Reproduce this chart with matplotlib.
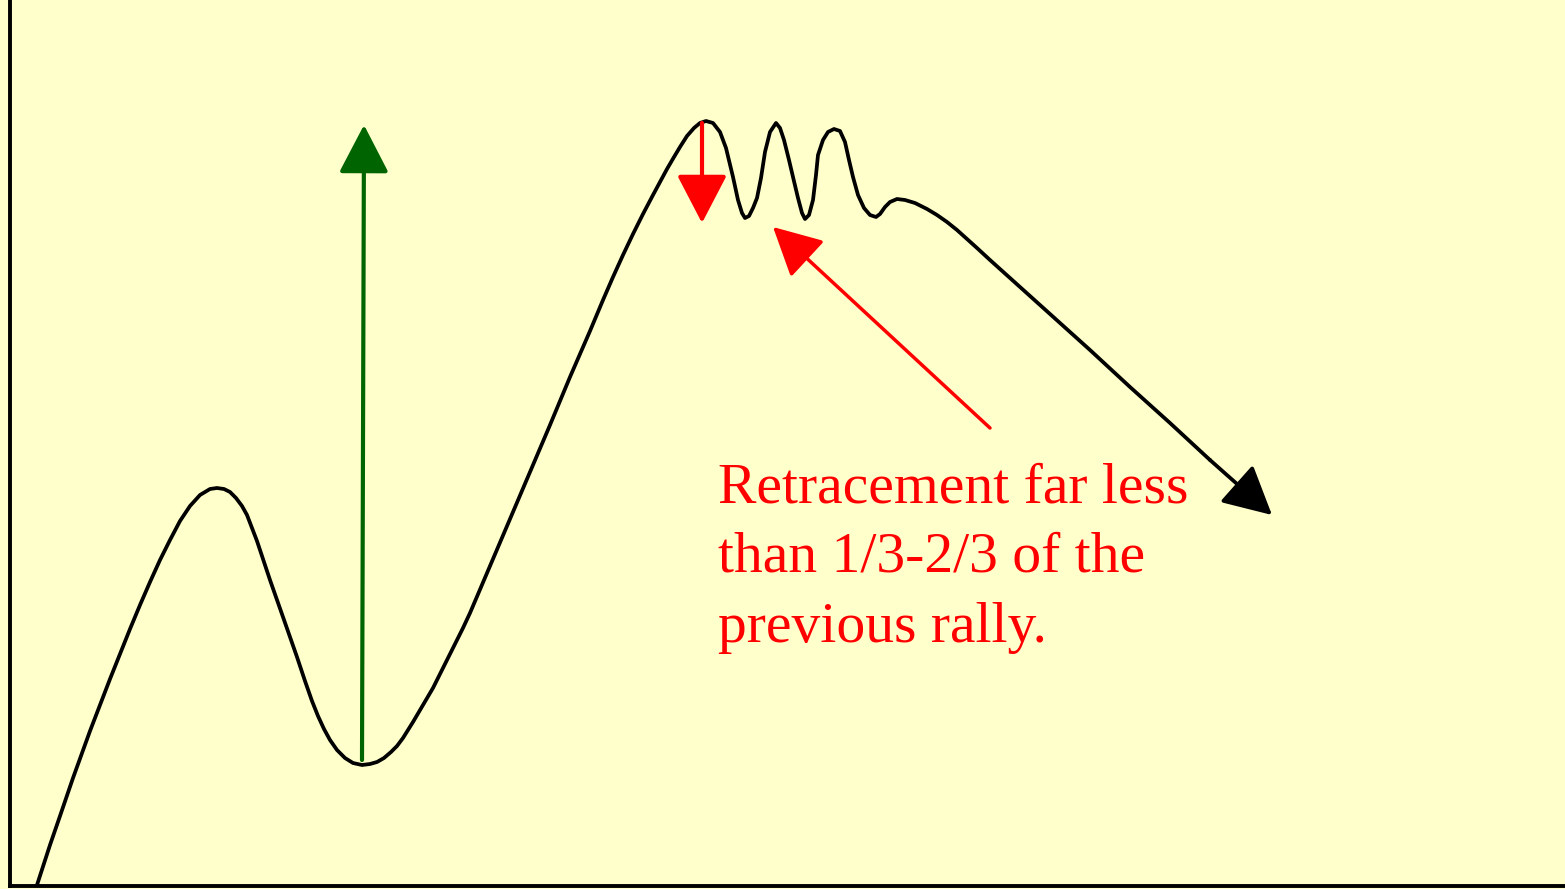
import matplotlib
matplotlib.use("Agg")
import matplotlib.pyplot as plt

# price path (x = time, y = price, both in pixel units)
t = [37, 50, 60, 73, 90, 110, 130, 140, 150, 160, 170, 180, 190, 200, 210, 217,
     224, 230, 236, 242, 247, 252, 257, 263, 270, 283, 297, 305, 312, 318, 324,
     330, 337, 345, 353, 362, 370, 377, 384, 391, 397, 403, 413, 423, 433, 443,
     453, 463, 470, 490, 510, 530, 550, 570, 590, 603, 613, 623, 633, 643, 653,
     660, 667, 674, 680, 687, 694, 700, 706, 713, 720, 726, 733, 738,
     742, 745, 749, 753, 757, 761, 765, 770, 776, 780, 784, 789, 793, 798, 802,
     805, 809, 813, 816, 818, 823, 828, 834, 840, 845, 849, 853, 858, 864, 870,
     876, 880, 885, 890, 897, 905, 915, 927, 937, 947, 957, 967, 977, 990, 1010,
     1030, 1050, 1090, 1130, 1170, 1210]
py = [885, 845, 816, 778, 731, 679, 629, 605, 582, 560, 540, 521, 506, 495, 489, 488,
      489, 492, 498, 506, 515, 528, 541, 559, 580, 617, 657, 681, 701, 716, 729,
      740, 750, 758, 763, 765, 764, 762, 758, 752, 746, 738, 722, 705, 688, 668,
      648, 628, 613, 566, 519, 472, 425, 377, 331, 300, 277, 255, 234, 214, 195,
      182, 169, 157, 147, 136, 128, 123, 121, 123, 132, 148, 177, 200,
      213, 218, 216, 208, 198, 178, 152, 132, 123, 128, 140, 160, 177, 198, 213,
      219, 215, 200, 175, 155, 140, 132, 129, 131, 142, 160, 177, 195, 208, 215,
      217, 214, 207, 202, 199, 200, 203, 209, 215, 222, 230, 239, 248, 260, 278,
      296, 314, 350, 387, 423, 460]
H = 889
price = [H - v for v in py]

trend_tip = (1272, H - 515)
rally_arrow = [(362, H - 760), (364, H - 125)]
drop_arrow = [(702, H - 123), (702, H - 223)]
pointer_arrow = [(990, H - 428), (773, H - 227)]

note_lines = ["Retracement far less", "than 1/3-2/3 of the", "previous rally."]
note_x = 718
note_baselines = [502, 572, 642]

bg = "#FFFFCC"
fig = plt.figure(figsize=(15.65, 8.89), dpi=100, facecolor=bg)
ax = fig.add_axes([10 / 1565, 3 / H, 1 - 10 / 1565, 1 - 3 / H])
ax.set_facecolor(bg)
ax.set_xlim(10, 1565)
ax.set_ylim(3, H)

ax.plot(t, price, color="black", lw=2.7, solid_joinstyle="round", solid_capstyle="round")

head = "-|>,head_length=1,head_width=0.52"
ax.annotate("", xy=trend_tip, xytext=(t[-1], price[-1]),
            arrowprops=dict(arrowstyle=head, color="black", lw=2.7,
                            mutation_scale=30, shrinkA=0, shrinkB=0))
ax.annotate("", xy=rally_arrow[1], xytext=rally_arrow[0],
            arrowprops=dict(arrowstyle=head, color="#006400", lw=3,
                            mutation_scale=30, shrinkA=0, shrinkB=0))
ax.annotate("", xy=drop_arrow[1], xytext=drop_arrow[0],
            arrowprops=dict(arrowstyle=head, color="#FF0000", lw=3,
                            mutation_scale=30, shrinkA=0, shrinkB=0))
ax.annotate("", xy=pointer_arrow[1], xytext=pointer_arrow[0],
            arrowprops=dict(arrowstyle=head, color="#FF0000", lw=2.5,
                            mutation_scale=30, shrinkA=0, shrinkB=0))

for line, b in zip(note_lines, note_baselines):
    ax.text(note_x, H - b, line, color="#FF0000", fontsize=41.5,
            family="Liberation Serif", va="baseline", ha="left")

for side in ["top", "right"]:
    ax.spines[side].set_visible(False)
ax.spines["left"].set_linewidth(2.8)
ax.spines["bottom"].set_linewidth(2.8)
ax.set_xticks([])
ax.set_yticks([])

fig.savefig("out.png", dpi=100, facecolor=bg)
